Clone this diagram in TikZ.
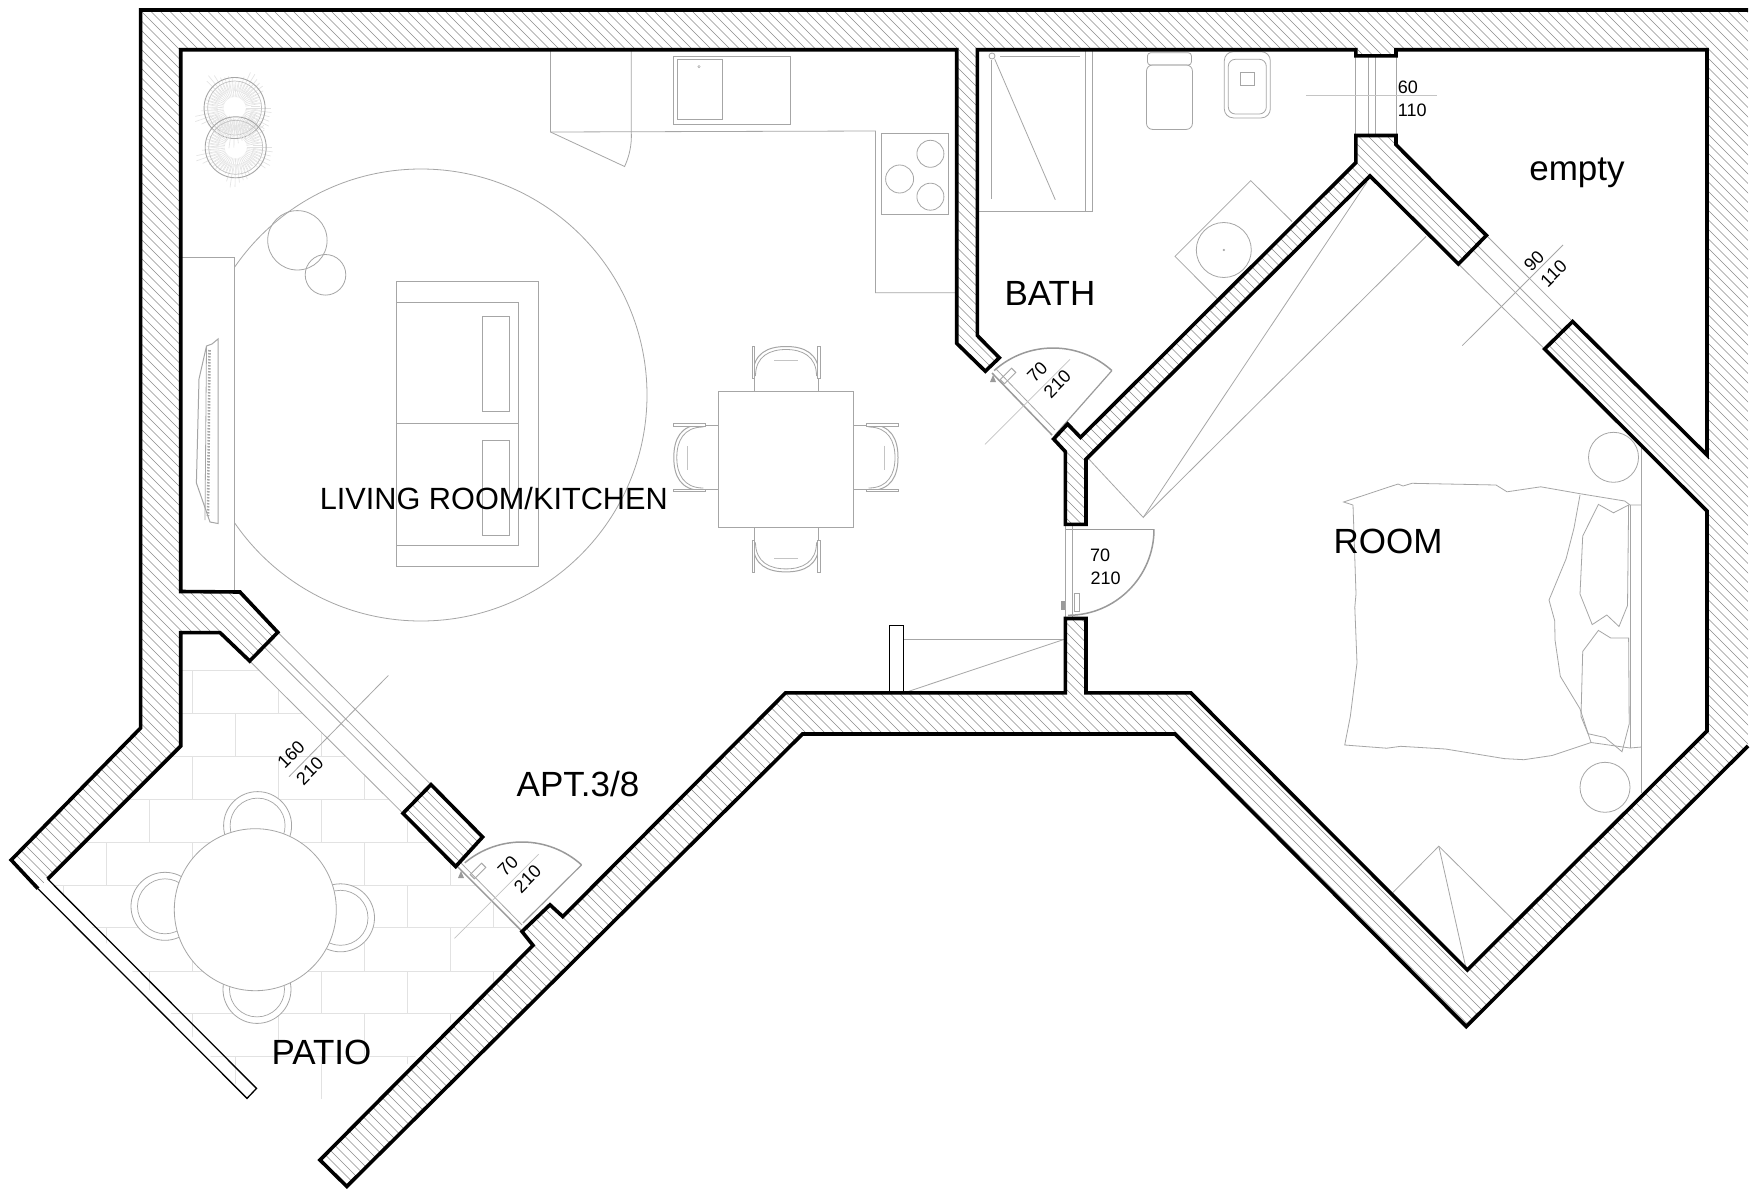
\documentclass[tikz,border=0pt]{standalone}
\usepackage{fontspec}
\setmainfont{Liberation Sans}
\definecolor{furn}{HTML}{A6A6A6}
\definecolor{tile}{HTML}{E2E2E2}
\definecolor{dimc}{HTML}{C4C4C4}
\definecolor{hatchc}{HTML}{8C8C8C}
\definecolor{doorc}{HTML}{9A9A9A}
\tikzset{
  furnl/.style={draw=furn,line width=.8pt},
  furnw/.style={draw=furn,line width=.8pt,fill=white},
  tilel/.style={draw=tile,line width=1pt},
  diml/.style={draw=dimc,line width=.8pt},
  doorl/.style={draw=doorc,line width=1.5pt},
  hatchl/.style={draw=hatchc,line width=.55pt},
  wallbold/.style={draw=black,line width=3.6pt,line join=miter,miter limit=6},
  railthin/.style={draw=black,line width=1.3pt},
  bigtxt/.style={anchor=base,inner sep=0pt,font=\fontsize{35}{35}\selectfont},
  livtxt/.style={anchor=base,inner sep=0pt,font=\fontsize{30.7}{31}\selectfont},
  dimtxt/.style={inner sep=0pt,font=\fontsize{18}{18}\selectfont}
}
\newcommand{\chairat}[3]{%
  \begin{scope}[shift={(#1,#2)},rotate=#3]
    \draw[furnl] (-32,-16)--(-32,0) (32,-16)--(32,0);
    \draw[furnl,line width=1pt] (-33,-16) .. controls (-33,-38) and (-18,-44.5) .. (0,-44.5) .. controls (18,-44.5) and (33,-38) .. (33,-16);
    \draw[furnl] (-30.5,-15) .. controls (-30.5,-35) and (-16,-41.5) .. (0,-41.5) .. controls (16,-41.5) and (30.5,-35) .. (30.5,-15);
    \draw[furnl,fill=white] (-34,-45) rectangle (-31.5,-13) (31.5,-45) rectangle (34,-13);
    \draw[dimc,line width=.8pt] (-12,-31)--(12,-31);
  \end{scope}}
\newcommand{\plantat}[2]{%
  \foreach \a in {0,7,...,353}{
    \pgfmathsetmacro{\rr}{33+6*sin(5*\a)+3*cos(11*\a)}
    \draw[draw=tile,line width=.6pt] (#1,#2) ++(\a:11) -- ++(\a:\rr-11);
    \draw[draw=tile,line width=.5pt] (#1,#2) ++(\a+3:17) -- ++(\a+10:9);
  }
  \draw[draw=furn,line width=.9pt] (#1,#2) circle[radius=30.5];
  \draw[draw=furn!70,line width=.7pt] (#1,#2) circle[radius=27];}
\begin{document}
\begin{tikzpicture}[x=1pt,y=-1pt]
\useasboundingbox (0,0) rectangle (1758,1194);
\fill[white] (0,0) rectangle (1758,1194);

% --- patio tiles
\begin{scope}
  \clip (181,665)--(254,665)--(403,814)--(456,866)--(522,931)--(533,945)--(370,1099.5)--(250,1099.5)--(47.7,879)--(181,746)--cycle;
  \foreach \r [count=\k from 0] in {670.5,713.4,756.3,799.5,842,885,927.7,971,1013.8,1056.3}{
    \draw[tilel] (0,\r)--(600,\r);
    \pgfmathsetmacro{\off}{mod(\k,2)*43}
    \foreach \n in {-4,...,6}{
      \draw[tilel] ({192.5+\off+86*\n},\r)--({192.5+\off+86*\n},{\r+43});
    }
  }
\end{scope}

% --- patio furniture
\foreach \cx/\cy in {257.6/825.6,165/906.3,340.5/917.8,257/989.4}{
  \draw[furnw] (\cx,\cy) circle[radius=34];
  \draw[furnl,line width=.7pt] (\cx,\cy) circle[radius=27.5];
}
\draw[furnw] (255.3,909.7) circle[radius=81];

% --- plants
\plantat{234.6}{108}
\plantat{235.7}{147.3}

% --- rug, console, side tables
\begin{scope}
  \clip (234.6,0) rectangle (1000,800);
  \draw[furnl] (421,395) circle[radius=226];
\end{scope}
\draw[furnl] (181,257)--(234.6,257)--(234.6,591);
\draw[furnl] (297.4,240.3) circle[radius=29.7];
\draw[furnl] (325.5,274.8) circle[radius=20.3];

% --- TV
\draw[furnl,line width=1pt] (218,339)--(218,523.5)--(210,522)--(196.4,483)--(199,379)--(206.5,346)--(212,344)--cycle;
\draw[furnl] (206.5,346)--(205,520);
\draw[draw=furn,line width=2.6pt,dash pattern=on 1.5pt off 1.5pt] (209.5,350)--(208,516);

% --- sofa
\draw[furnl] (396.7,281.7) rectangle (538,566.4);
\draw[furnl] (396.7,302.3) rectangle (518,545.4);
\draw[furnl,line width=1.5pt] (396.7,423.7)--(518,423.7);
\draw[furnl] (482.6,316.5) rectangle (509.5,411.4);
\draw[furnl] (482.6,440) rectangle (509.5,535);

% --- kitchen
\draw[furnl] (550.5,51)--(550.5,132)--(875.4,131)--(875.4,292.8)--(956.7,292.8);
\draw[furnl] (631.3,51)--(631.3,132) .. controls (632,145) and (629,157) .. (624.6,166.5)--(550.5,132);
\draw[furnl] (673.4,56.3) rectangle (790,124.4);
\draw[furnl] (677.3,59.7) rectangle (722.8,119.4);
\draw[furnl,line width=.5pt] (699,66.6) circle[radius=1.2];
\draw[furnl] (881,133.6) rectangle (948.3,214.3);
\draw[furnl] (930.4,153.8) circle[radius=13.5];
\draw[furnl] (899.6,179) circle[radius=14];
\draw[furnl] (930.4,196.7) circle[radius=13.5];

% --- dining set
\chairat{786}{391}{0}
\chairat{786}{527.4}{180}
\chairat{718.3}{457.5}{90}
\chairat{853.5}{457.5}{-90}
\draw[furnl,line width=1pt] (718.3,391) rectangle (853.5,527.4);

% --- bath
\draw[furnl] (977.4,211.3)--(1092.2,211.3)--(1092.2,50);
\draw[furnl] (1085.5,50)--(1085.5,211.3);
\draw[furnl] (991,60)--(991,199);
\draw[furnl] (992,56) circle[radius=3];
\draw[furnl] (1000.4,56.3)--(1080.4,56.3);
\draw[furnl] (994.8,59.3)--(1055.3,199.8);
\draw[furnl,rounded corners=6pt] (1146.5,65) rectangle (1192.4,129.4);
\draw[furnl,rounded corners=3pt] (1147.5,52.8) rectangle (1191.4,65);
\draw[furnl,rounded corners=9pt] (1224.3,51.7) rectangle (1270.3,117.9);
\draw[furnl,rounded corners=7pt] (1228.3,59.3) rectangle (1266.3,114);
\draw[furnl] (1240,72.7) rectangle (1254,85.3);
\draw[furnl] (1292,221.5)--(1250.7,180.6)--(1175,256.4)--(1217,298.5);
\draw[furnl] (1223.8,250) circle[radius=27.5];
\draw[furnl,line width=.6pt] (1223.8,250) circle[radius=.8];

% --- room
\draw[furnl] (1088.8,459)--(1143.2,517.4)--(1367,182);
\draw[furnl] (1143.2,517.4)--(1426,236.5);
\draw[furnl] (1392.9,892.5)--(1438.8,846.2)--(1514.4,921);
\draw[furnl] (1438.8,846.2)--(1466.2,969);
\draw[furnl] (1641.5,444)--(1641.5,793);
\draw[furnl] (1630,505)--(1630,748);
\draw[furnl] (1613.5,457.3) circle[radius=25];
\draw[furnl] (1605,787.3) circle[radius=25];
% bed
\draw[furnl] (1353,505)--(1343.6,502)--(1398,484)--(1403,486)--(1412,483.3)--(1496,485)--(1507,491.8)--(1540.7,486.8)--(1580,493.7)--(1624.7,501)--(1630,505)--(1641.5,505);
\draw[furnl] (1353,505)--(1356,594)--(1354.8,607.4)--(1357,663)--(1350.3,716.5)--(1344.7,745)--(1386.7,748.2)--(1400.7,746.3)--(1445.5,749)--(1504.3,758.6)--(1523.9,759.7)--(1552,755.5)--(1591,742.5)--(1630,748)--(1641.5,747);
\draw[furnl] (1580,495)--(1574,528)--(1566,559)--(1549,600)--(1554.7,620.8)--(1555,640)--(1560.3,676.3)--(1580,708.8)--(1591,742.5);
\draw[furnl] (1598.4,504.4)--(1613.5,512.8)--(1628.6,505)--(1627.5,605.5)--(1619,626.5)--(1606.8,615)--(1592.2,624.6)--(1580,594)--(1582.7,536)--cycle;
\draw[furnl] (1598.4,630.4)--(1610.7,638)--(1628.6,638)--(1629.2,724)--(1622,751.7)--(1605,737.5)--(1588,733.7)--(1581,716.5)--(1582.7,651.4)--cycle;

% --- windows
\draw[furnl] (1355.7,56)--(1355.7,135.5) (1368.7,56)--(1368.7,135.5) (1375.3,56)--(1375.3,135.5) (1396.3,56)--(1396.3,135.5);
\draw[diml,line width=1.3pt] (1305.8,95.7)--(1436.7,95.7);
\draw[furnl] (1486.4,235.4)--(1572.6,321.5) (1477,245)--(1563,331) (1472.4,249.6)--(1558.6,335.7) (1458.4,264)--(1544.6,349);
\draw[diml,draw=furn] (1563,245)--(1462.3,345.6);
\draw[furnl] (277.8,632.3)--(431,784.6) (268.3,642)--(421.6,794.3) (263.7,646.6)--(417,799) (249.7,661)--(403,813.3);
\draw[diml,draw=furn] (388.3,675.5)--(289,776.7);

% --- entry slider
\draw[furnl] (903.5,639)--(1065.3,639);
\draw[furnl] (903.5,693)--(1065.3,639);
\draw[railthin] (889.5,693)--(889.5,625.8)--(903.5,625.8)--(903.5,693);

% --- doors
\coordinate (bathpivot) at (1053,436);
\draw[doorl] (bathpivot) ++(228:88) arc[start angle=228,end angle=312,radius=88] coordinate (bathtip);
\draw[doorl,line width=1.2pt] (bathtip)--(1055,435);
\draw[doorl] (992,373)--(1052,435);
\draw[furnl] (996,369)--(1055,430);
\draw[diml] (1070,359.3)--(985,444.3);
\draw[furnl,line width=1pt,rotate around={45:(1008,376)}] (1000,373) rectangle (1016,379);
\fill[doorc] (990,382)--(996,382)--(993,375)--cycle;

\coordinate (patiopivot) at (522,931);
\draw[doorl] (patiopivot) ++(230:89) arc[start angle=230,end angle=312,radius=89] coordinate (patiotip);
\draw[doorl,line width=1.2pt] (patiotip)--(523,923);
\draw[doorl] (457.4,866.5)--(520.8,930);
\draw[furnl] (461,863)--(522,925);
\draw[diml] (538.7,854.2)--(454.5,938.4);
\draw[furnl,line width=1pt,rotate around={45:(478,871)}] (470,868) rectangle (486,874);
\fill[doorc] (458,878)--(464,878)--(461,871)--cycle;

\coordinate (roompivot) at (1068,529.3);
\draw[doorl] (1065.3,529.3)--(1154,529.3);
\draw[doorl] (roompivot) ++(0:86) arc[start angle=0,end angle=90,radius=86];
\draw[furnl] (1065.3,524)--(1065.3,618.5) (1072.6,524)--(1072.6,618.5);
\draw[furnl,line width=1pt] (1074,593) rectangle (1079,611);
\fill[doorc] (1061,601)--(1065,601)--(1065,610)--(1061,610)--cycle;

% --- wall hatch
\fill[white]
  (141,10)--(1748,10)--(1748,746)--(1466.2,1026.5)--(1175,734)--(802.5,734)--(346.8,1186.4)--(320,1160)--(533,945.3)--(522,931.5)--(550,904.8)--(562.8,916.6)--(785.6,692.8)--(1065.3,692.8)--(1065.3,618.5)--(1086,618.5)--(1086,692.8)--(1190.8,692.8)--(1467.3,970)--(1707,731)--(1707,511)--(1544.6,349)--(1572.6,321.5)--(1707,455)--(1707,49.7)--(1396,49.7)--(1396,55.9)--(1355.9,55.9)--(1355.9,49.7)--(977.4,49.7)--(977.4,335.6)--(999.3,357.8)--(985.3,371.2)--(956.7,343.3)--(956.7,49.7)--(180.7,49.7)--(180.7,591.5)--(240,592)--(277.8,632.3)--(249.7,661)--(220,632.6)--(180.7,632.6)--(180.7,746)--(47.7,879)--(38,888.7)--(11.2,860)--(140.6,728)--cycle
  (1355.9,135.5)--(1396,135.5)--(1396,144.7)--(1486.4,235.4)--(1458.4,264)--(1370,176)--(1086,459.2)--(1086,524.3)--(1065.3,524.3)--(1065.3,451.6)--(1053.6,439)--(1067.6,424)--(1080.5,437.4)--(1355.9,162.6)--cycle
  (431,784.6)--(403,813.3)--(455.7,866.5)--(482.6,837)--cycle;
\begin{scope}
  \clip
  (141,10)--(1748,10)--(1748,746)--(1466.2,1026.5)--(1175,734)--(802.5,734)--(346.8,1186.4)--(320,1160)--(533,945.3)--(522,931.5)--(550,904.8)--(562.8,916.6)--(785.6,692.8)--(1065.3,692.8)--(1065.3,618.5)--(1086,618.5)--(1086,692.8)--(1190.8,692.8)--(1467.3,970)--(1707,731)--(1707,511)--(1544.6,349)--(1572.6,321.5)--(1707,455)--(1707,49.7)--(1396,49.7)--(1396,55.9)--(1355.9,55.9)--(1355.9,49.7)--(977.4,49.7)--(977.4,335.6)--(999.3,357.8)--(985.3,371.2)--(956.7,343.3)--(956.7,49.7)--(180.7,49.7)--(180.7,591.5)--(240,592)--(277.8,632.3)--(249.7,661)--(220,632.6)--(180.7,632.6)--(180.7,746)--(47.7,879)--(38,888.7)--(11.2,860)--(140.6,728)--cycle
  (1355.9,135.5)--(1396,135.5)--(1396,144.7)--(1486.4,235.4)--(1458.4,264)--(1370,176)--(1086,459.2)--(1086,524.3)--(1065.3,524.3)--(1065.3,451.6)--(1053.6,439)--(1067.6,424)--(1080.5,437.4)--(1355.9,162.6)--cycle
  (431,784.6)--(403,813.3)--(455.7,866.5)--(482.6,837)--cycle;
  \foreach \c in {-1200,-1190.5,...,1800}{
    \draw[hatchl] (\c,0)--(\c+1200,1200);
  }
\end{scope}

% --- wall outlines
\draw[wallbold] (1748,746)--(1466.2,1026.5)--(1175,734)--(802.5,734)--(346.8,1186.4)--(320,1160)--(533,945.3)--(522,931.5)--(550,904.8)--(562.8,916.6)--(785.6,692.8)--(1065.3,692.8)--(1065.3,618.5)--(1086,618.5)--(1086,692.8)--(1190.8,692.8)--(1467.3,970)--(1707,731)--(1707,511)--(1544.6,349)--(1572.6,321.5)--(1707,455)--(1707,49.7)--(1396,49.7)--(1396,55.9)--(1355.9,55.9)--(1355.9,49.7)--(977.4,49.7)--(977.4,335.6)--(999.3,357.8)--(985.3,371.2)--(956.7,343.3)--(956.7,49.7)--(180.7,49.7)--(180.7,591.5)--(240,592)--(277.8,632.3)--(249.7,661)--(220,632.6)--(180.7,632.6)--(180.7,746)--(47.7,879);
\draw[wallbold] (38,888.7)--(11.2,860)--(140.6,728)--(140.6,10)--(1748,10);
\draw[wallbold] (1355.9,135.5)--(1396,135.5)--(1396,144.7)--(1486.4,235.4)--(1458.4,264)--(1370,176)--(1086,459.2)--(1086,524.3)--(1065.3,524.3)--(1065.3,451.6)--(1053.6,439)--(1067.6,424)--(1080.5,437.4)--(1355.9,162.6)--cycle;
\draw[wallbold] (431,784.6)--(403,813.3)--(455.7,866.5)--(482.6,837)--cycle;
\draw[railthin] (38,888.7)--(247,1098.4)--(256.5,1088.4)--(47.7,879);

% --- labels
\node[livtxt] (livinglbl) at (493.8,509) {LIVING ROOM/KITCHEN};
\node[bigtxt] (bathlbl) at (1050,305.4) {BATH};
\node[bigtxt] (roomlbl) at (1388,553) {ROOM};
\node[bigtxt] (emptylbl) at (1577,180.6) {empty};
\node[bigtxt] (aptlbl) at (578,796.8) {APT.3/8};
\node[bigtxt] (patiolbl) at (321.5,1064.7) {PATIO};
\node[dimtxt,anchor=base west] (w60a) at (1397.7,93.3) {60};
\node[dimtxt,anchor=base west] (w60b) at (1397.7,116) {110};
\node[dimtxt,rotate=45] (w90a) at (1534,261) {90};
\node[dimtxt,rotate=45] (w90b) at (1553.6,273.6) {110};
\node[dimtxt,rotate=45] (w160a) at (291,754.7) {160};
\node[dimtxt,rotate=45] (w160b) at (309.8,771) {210};
\node[dimtxt,rotate=45] (d1a) at (1037.3,371.7) {70};
\node[dimtxt,rotate=45] (d1b) at (1057.3,384) {210};
\node[dimtxt] (d2a) at (1100,555.7) {70};
\node[dimtxt] (d2b) at (1105.6,578) {210};
\node[dimtxt,rotate=45] (d3a) at (507.9,866.5) {70};
\node[dimtxt,rotate=45] (d3b) at (527.5,879) {210};
\end{tikzpicture}
\end{document}
